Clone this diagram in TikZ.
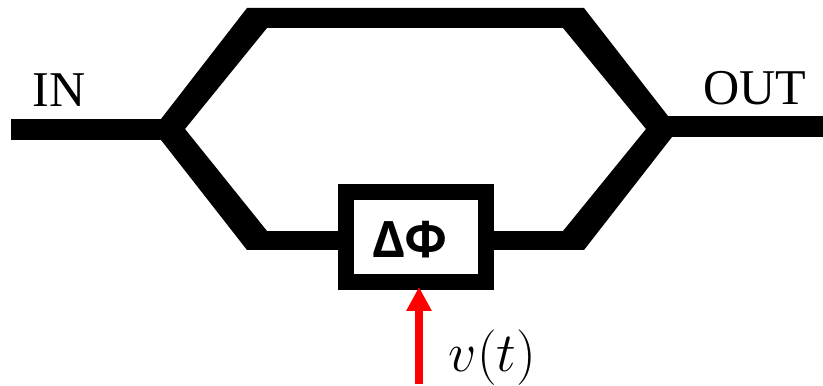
\documentclass[tikz,border=0pt]{standalone}
\usepackage{fontspec}
\newfontfamily\phasefont{Open Sans}
\newfontfamily\portfont{Liberation Serif}
\usepackage{tikz}
\usetikzlibrary{arrows.meta, positioning, calc}

\tikzset{
  guide/.style={line width=0.41cm},
  lowguide/.style={line width=0.38cm},
  armfill/.style={fill=black},
  phasebox/.style={draw, line width=0.32cm, fill=white, minimum width=2.8cm, minimum height=1.8cm},
  phasetext/.style={font=\phasefont\bfseries\fontsize{28.5}{32}\selectfont, anchor=base, inner sep=0pt},
  drive/.style={red, line width=0.16cm, -{Triangle[width=0.48cm, length=0.48cm]}, shorten >=-0.06cm},
  portlabel/.style={font=\portfont\fontsize{28.5}{32}\selectfont, anchor=base, inner sep=0pt},
  mathlabel/.style={font=\Huge, scale=1.27, anchor=base, inner sep=0pt}
}

\begin{document}
\begin{tikzpicture}
  \useasboundingbox (0,0) rectangle (16.46,7.72);

  \coordinate (inend) at (0.22,5.13);
  \coordinate (split) at (3.70,5.13);
  \coordinate (combine) at (12.92,5.19);
  \coordinate (outend) at (16.46,5.19);
  \coordinate (lowleft) at (5.30,2.91);
  \coordinate (lowright) at (11.30,2.91);
  \coordinate (vin) at (8.38,0.04);

  % upper arm
  \fill[armfill] (3.22,5.34) -- (4.94,7.56) -- (11.68,7.56) -- (13.36,5.40) -- (12.92,5.14)
    -- (11.26,7.16) -- (5.34,7.16) -- (3.70,5.14) -- cycle;
  % lower arm
  \fill[armfill] (3.22,4.92) -- (4.94,2.72) -- (5.34,2.72) -- (5.34,3.10) -- (3.70,5.14) -- cycle;
  \fill[armfill] (13.44,4.98) -- (11.68,2.72) -- (11.26,2.72) -- (11.26,3.10) -- (12.92,5.14) -- cycle;

  \draw[guide] (inend) -- (split);
  \draw[guide] (combine) -- (outend);

  \node[phasebox] (phase) at (8.32,2.98) {};
  \draw[lowguide] (lowleft) -- (lowleft -| phase.west);
  \draw[lowguide] (lowright) -- (lowright -| phase.east);

  \node[phasetext] (dphi) at (8.21,2.56) {ΔΦ};
  \draw[drive] (vin) -- (vin |- phase.south);

  \node[portlabel] (inlabel) at (1.18,5.58) {IN};
  \node[portlabel] (outlabel) at (15.10,5.62) {OUT};
  \node[mathlabel] (vlabel) at (9.85,0.28) {$v(t)$};
\end{tikzpicture}
\end{document}
